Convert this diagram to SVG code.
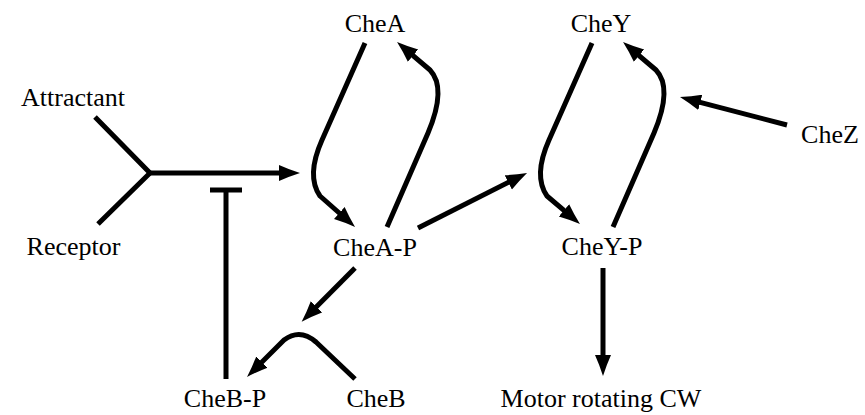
<svg xmlns="http://www.w3.org/2000/svg" width="865" height="415" viewBox="0 0 865 415">
  <style>
    .t { font-family: "Liberation Serif", "DejaVu Serif", "Noto Serif", "Times New Roman", Times, serif; font-size: 26px; fill: #000; text-anchor: middle; }
    .c { fill: none; stroke: #000; stroke-width: 5; stroke-linejoin: round; }
    .a { marker-end: url(#ah); }
  </style>
  <defs>
    <marker id="ah" markerUnits="userSpaceOnUse" viewBox="0 -9 22 18" markerWidth="22" markerHeight="18" refX="12" refY="0" orient="auto">
      <path d="M21,0 Q10,-3.5 0,-8 L0,8 Q10,3.5 21,0 Z" fill="#000"/>
    </marker>
  </defs>
  <rect width="865" height="415" fill="#fff"/>
  <g id="connectors">
    <path class="c" d="M95,117 L150,173 L98,224"/>
    <path class="c a" d="M150,173 L291,173"/>
    <path class="c" d="M226,379 L226,190 M210,190 L242,190"/>
    <path class="c a" d="M365,43 L322,140 Q306,176 320,196 L348.3,221"/>
    <path class="c a" d="M387,227 L428,133 Q447,88 430,70 L403.9,47.8"/>
    <path class="c a" d="M418,228 L519,177"/>
    <path class="c a" d="M592,43 L549,140 Q533,176 547,196 L573.1,218.2"/>
    <path class="c a" d="M613,227 L654,133 Q673,88 656,70 L629.9,47.8"/>
    <path class="c a" d="M787,125 L688.7,99.3"/>
    <path class="c a" d="M603,268 L603,367"/>
    <path class="c a" d="M355,268 L308,315.3"/>
    <path class="c a" d="M355,379 L316,342 Q300,328 284,340 L253.4,370.6"/>
  </g>
  <g id="attractant"><text class="t" x="73" y="106" font-family="Liberation Serif, DejaVu Serif, serif">Attractant</text></g>
  <g id="receptor"><text class="t" x="73.5" y="255">Receptor</text></g>
  <g id="cheA"><text class="t" x="375" y="32">CheA</text></g>
  <g id="cheAP"><text class="t" x="375" y="256">CheA-P</text></g>
  <g id="cheY"><text class="t" x="601" y="32">CheY</text></g>
  <g id="cheYP"><text class="t" x="602" y="255">CheY-P</text></g>
  <g id="cheZ"><text class="t" x="830" y="143">CheZ</text></g>
  <g id="cheBP"><text class="t" x="225" y="407">CheB-P</text></g>
  <g id="cheB"><text class="t" x="376" y="407">CheB</text></g>
  <g id="motor"><text class="t" x="601" y="407">Motor rotating CW</text></g>
</svg>
